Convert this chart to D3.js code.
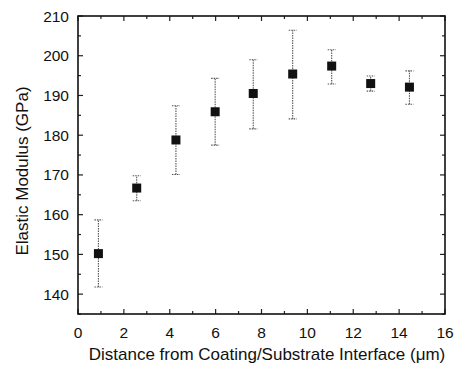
<!DOCTYPE html>
<html><head><meta charset="utf-8">
<script src="https://cdn.jsdelivr.net/npm/d3@7"></script>
<style>body{margin:0;background:#fff}svg{display:block}text{font-family:"Liberation Sans",Arial,sans-serif;fill:#111}</style>
</head><body><svg id="c" width="458" height="365"></svg>
<script>
const distance = [0.89, 2.56, 4.27, 5.98, 7.64, 9.36, 11.06, 12.76, 14.45];
const modulus  = [150.2, 166.7, 178.8, 185.9, 190.5, 195.4, 197.4, 193.0, 192.1];
const errHigh  = [158.7, 169.8, 187.4, 194.3, 199.0, 206.4, 201.5, 194.9, 196.2];
const errLow   = [141.8, 163.5, 170.1, 177.5, 181.6, 184.1, 192.9, 191.1, 187.8];
const xTicks = [0,2,4,6,8,10,12,14,16];
const yTicks = [140,150,160,170,180,190,200,210];

const svg = d3.select("#c");
const L=78, R=445, T=16, B=314;
const x = d3.scaleLinear().domain([0,16]).range([L,R]);
const y = d3.scaleLinear().domain([135,210]).range([B,T]);

const g = svg.append("g");
const xMinor = d3.range(1,16,2), yMinor = d3.range(135,211,10);
const tickG = g.append("g").attr("stroke","#222").attr("stroke-width",1.2);
xTicks.forEach(d=>{
  tickG.append("line").attr("x1",x(d)).attr("x2",x(d)).attr("y1",B).attr("y2",B-5);
  tickG.append("line").attr("x1",x(d)).attr("x2",x(d)).attr("y1",T).attr("y2",T+5);
});
xMinor.forEach(d=>{
  tickG.append("line").attr("x1",x(d)).attr("x2",x(d)).attr("y1",B).attr("y2",B-3);
  tickG.append("line").attr("x1",x(d)).attr("x2",x(d)).attr("y1",T).attr("y2",T+3);
});
yTicks.forEach(d=>{
  tickG.append("line").attr("x1",L).attr("x2",L+5).attr("y1",y(d)).attr("y2",y(d));
  tickG.append("line").attr("x1",R).attr("x2",R-5).attr("y1",y(d)).attr("y2",y(d));
});
yMinor.forEach(d=>{
  tickG.append("line").attr("x1",L).attr("x2",L+3).attr("y1",y(d)).attr("y2",y(d));
  tickG.append("line").attr("x1",R).attr("x2",R-3).attr("y1",y(d)).attr("y2",y(d));
});
g.append("rect").attr("x",L).attr("y",T).attr("width",R-L).attr("height",B-T)
  .attr("fill","none").attr("stroke","#111").attr("stroke-width",1.6);

// tick labels
g.selectAll(".xl").data(xTicks).join("text").attr("x",d=>x(d)).attr("y",B+24)
  .attr("text-anchor","middle").attr("font-size",15.5).text(d=>d);
g.selectAll(".yl").data(yTicks).join("text").attr("x",L-9).attr("y",d=>y(d)+5.5)
  .attr("text-anchor","end").attr("font-size",15.5).text(d=>d);

// axis titles
g.append("text").attr("x",267).attr("y",360).attr("text-anchor","middle").attr("font-size",17)
  .text("Distance from Coating/Substrate Interface (\u03bcm)");
g.append("text").attr("transform",`translate(28,171) rotate(-90)`).attr("text-anchor","middle")
  .attr("font-size",17).text("Elastic Modulus (GPa)");

// error bars
const eb = g.append("g").attr("stroke","#555").attr("stroke-width",1.1).attr("stroke-dasharray","1.5,1");
distance.forEach((d,i)=>{
  eb.append("line").attr("x1",x(d)).attr("x2",x(d)).attr("y1",y(errLow[i])).attr("y2",y(errHigh[i]));
  eb.append("line").attr("x1",x(d)-4).attr("x2",x(d)+4).attr("y1",y(errLow[i])).attr("y2",y(errLow[i]));
  eb.append("line").attr("x1",x(d)-4).attr("x2",x(d)+4).attr("y1",y(errHigh[i])).attr("y2",y(errHigh[i]));
});
// markers
g.selectAll(".pt").data(distance).join("rect")
  .attr("x",d=>x(d)-4.5).attr("y",(d,i)=>y(modulus[i])-4.5).attr("width",9).attr("height",9).attr("fill","#111");
</script></body></html>
